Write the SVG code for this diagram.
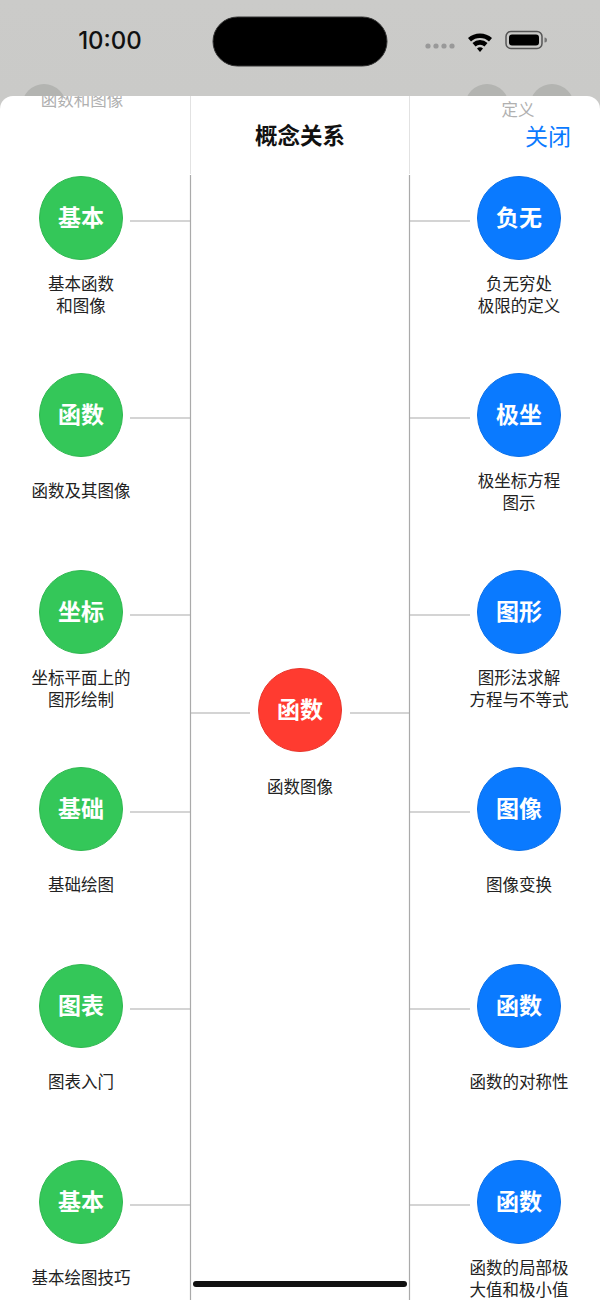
<svg xmlns="http://www.w3.org/2000/svg" width="600" height="1300" viewBox="0 0 600 1300">
<defs>
<linearGradient id="bg" x1="0" y1="0" x2="0" y2="1">
<stop offset="0" stop-color="#cbcbc9"/>
<stop offset="1" stop-color="#bdbebb"/>
</linearGradient>
<clipPath id="sheetClip"><rect x="0" y="96" width="600" height="1204"/></clipPath>
<style>
.lbl{font-family:"Noto Sans CJK SC","Noto Sans",sans-serif;font-size:16.5px;fill:#222;text-anchor:middle}
.ct{font-family:"Noto Sans CJK SC","Noto Sans",sans-serif;font-size:23px;font-weight:700;fill:#fff;text-anchor:middle}
.g{fill:#34c759;stroke:#2fb850;stroke-width:1}
.b{fill:#0a7aff;stroke:#0a6fe8;stroke-width:1}
.r{fill:#ff3b30;stroke:#e8342a;stroke-width:1}
.cn{stroke:#aaaaaa;stroke-width:1.2;fill:none}
</style>
</defs>
<rect x="0" y="0" width="600" height="1300" fill="url(#bg)"/>
<!-- status bar -->
<text x="110" y="49" font-family="Inter,'Liberation Sans',sans-serif" font-size="24" font-weight="500" fill="#111" text-anchor="middle">10:00</text>
<rect x="213" y="17" width="174" height="49" rx="24.5" fill="#000" stroke="#333" stroke-width="1"/>
<g fill="#999">
<circle cx="428" cy="46" r="2.6"/><circle cx="436" cy="46" r="2.6"/><circle cx="444" cy="46" r="2.6"/><circle cx="452" cy="46" r="2.6"/>
</g>
<g fill="#000">
<path d="M468 38 A18 18 0 0 1 492 38 L489 41.5 A13.5 13.5 0 0 0 471 41.5 Z"/>
<path d="M472.5 43 A11 11 0 0 1 487.5 43 L484.5 46.5 A6.5 6.5 0 0 0 475.5 46.5 Z"/>
<path d="M477 48.5 A4 4 0 0 1 483 48.5 L480 52 Z"/>
</g>
<rect x="506" y="31.5" width="36" height="17" rx="5" fill="none" stroke="#555" stroke-width="1.5"/>
<rect x="509" y="34.5" width="30" height="11" rx="3" fill="#000"/>
<path d="M544.5 37.5 a2.5 2.5 0 0 1 0 5 z" fill="#777"/>
<!-- background nav circles -->
<circle cx="44" cy="106" r="22" fill="#b3b4b1"/>
<circle cx="487" cy="106" r="22" fill="#b3b4b1"/>
<circle cx="552" cy="106" r="22" fill="#b3b4b1"/>
<!-- sheet -->
<rect x="0" y="96" width="600" height="1230" rx="13" fill="#fff"/>
<g clip-path="url(#sheetClip)">
<text x="82" y="106" font-family="'Noto Sans CJK SC',sans-serif" font-size="16.5" fill="#b0b0b0" text-anchor="middle">函数和图像</text>
</g>
<text x="518" y="116" font-family="'Noto Sans CJK SC',sans-serif" font-size="16.5" fill="#b0b0b0" text-anchor="middle">定义</text>
<!-- header -->
<g id="header">
<line x1="190.5" y1="96" x2="190.5" y2="174" stroke="#e2e2e2" stroke-width="1"/>
<line x1="409.5" y1="96" x2="409.5" y2="174" stroke="#e2e2e2" stroke-width="1"/>
<text x="300" y="144" font-family="'Noto Sans CJK SC',sans-serif" font-size="22.5" font-weight="700" fill="#111" text-anchor="middle">概念关系</text>
<text x="548" y="145" font-family="'Noto Sans CJK SC',sans-serif" font-size="23" fill="#0a7aff" text-anchor="middle">关闭</text>
</g>
<!-- connectors -->
<g id="connectors" class="cn">
<line x1="190.5" y1="175" x2="190.5" y2="1300"/>
<line x1="409.5" y1="175" x2="409.5" y2="1300"/>
<line x1="130" y1="221" x2="190" y2="221"/>
<line x1="130" y1="418" x2="190" y2="418"/>
<line x1="130" y1="615" x2="190" y2="615"/>
<line x1="130" y1="812" x2="190" y2="812"/>
<line x1="130" y1="1009" x2="190" y2="1009"/>
<line x1="130" y1="1205" x2="190" y2="1205"/>
<line x1="410" y1="221" x2="470" y2="221"/>
<line x1="410" y1="418" x2="470" y2="418"/>
<line x1="410" y1="615" x2="470" y2="615"/>
<line x1="410" y1="812" x2="470" y2="812"/>
<line x1="410" y1="1009" x2="470" y2="1009"/>
<line x1="410" y1="1205" x2="470" y2="1205"/>
<line x1="190" y1="713" x2="250" y2="713"/>
<line x1="350" y1="713" x2="409" y2="713"/>
</g>
<!-- center -->
<g id="center">
<circle class="r" cx="300" cy="710" r="41.5"/>
<text class="ct" x="300" y="718">函数</text>
<text class="lbl" x="300" y="793">函数图像</text>
</g>
<!-- left nodes -->
<g id="L1"><circle class="g" cx="81" cy="218" r="41.5"/><text class="ct" x="81" y="226">基本</text><text class="lbl" x="81" y="290">基本函数</text><text class="lbl" x="81" y="312">和图像</text></g>
<g id="L2"><circle class="g" cx="81" cy="415" r="41.5"/><text class="ct" x="81" y="423">函数</text><text class="lbl" x="81" y="497">函数及其图像</text></g>
<g id="L3"><circle class="g" cx="81" cy="612" r="41.5"/><text class="ct" x="81" y="620">坐标</text><text class="lbl" x="81" y="684">坐标平面上的</text><text class="lbl" x="81" y="706">图形绘制</text></g>
<g id="L4"><circle class="g" cx="81" cy="809" r="41.5"/><text class="ct" x="81" y="817">基础</text><text class="lbl" x="81" y="891">基础绘图</text></g>
<g id="L5"><circle class="g" cx="81" cy="1006" r="41.5"/><text class="ct" x="81" y="1014">图表</text><text class="lbl" x="81" y="1088">图表入门</text></g>
<g id="L6"><circle class="g" cx="81" cy="1202" r="41.5"/><text class="ct" x="81" y="1210">基本</text><text class="lbl" x="81" y="1284">基本绘图技巧</text></g>
<!-- right nodes -->
<g id="R1"><circle class="b" cx="519" cy="218" r="41.5"/><text class="ct" x="519" y="226">负无</text><text class="lbl" x="519" y="290">负无穷处</text><text class="lbl" x="519" y="312">极限的定义</text></g>
<g id="R2"><circle class="b" cx="519" cy="415" r="41.5"/><text class="ct" x="519" y="423">极坐</text><text class="lbl" x="519" y="487">极坐标方程</text><text class="lbl" x="519" y="509">图示</text></g>
<g id="R3"><circle class="b" cx="519" cy="612" r="41.5"/><text class="ct" x="519" y="620">图形</text><text class="lbl" x="519" y="684">图形法求解</text><text class="lbl" x="519" y="706">方程与不等式</text></g>
<g id="R4"><circle class="b" cx="519" cy="809" r="41.5"/><text class="ct" x="519" y="817">图像</text><text class="lbl" x="519" y="891">图像变换</text></g>
<g id="R5"><circle class="b" cx="519" cy="1006" r="41.5"/><text class="ct" x="519" y="1014">函数</text><text class="lbl" x="519" y="1088">函数的对称性</text></g>
<g id="R6"><circle class="b" cx="519" cy="1202" r="41.5"/><text class="ct" x="519" y="1210">函数</text><text class="lbl" x="519" y="1274">函数的局部极</text><text class="lbl" x="519" y="1296">大值和极小值</text></g>
<!-- home indicator -->
<rect x="193" y="1281" width="214" height="6" rx="3" fill="#111"/>
</svg>
